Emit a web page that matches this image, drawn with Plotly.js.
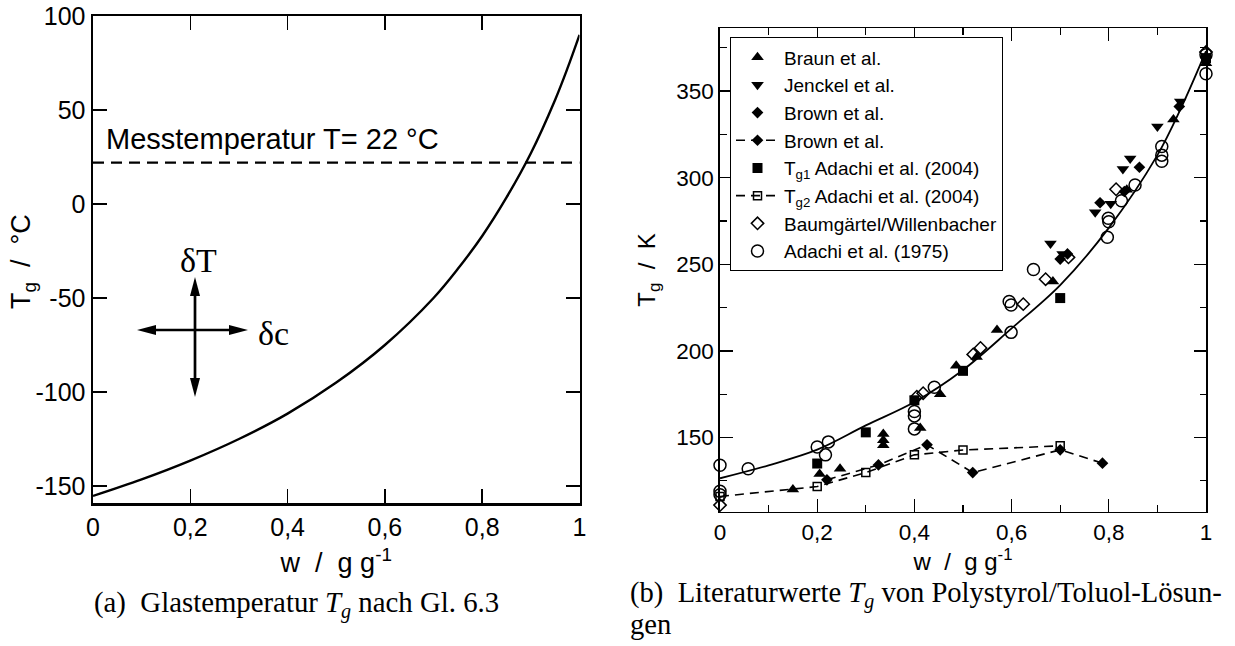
<!DOCTYPE html>
<html><head><meta charset="utf-8">
<script src="https://cdn.plot.ly/plotly-3.0.1.min.js"></script>
<style>html,body{margin:0;padding:0;background:#fff;} #chart{width:1235px;height:646px;}</style>
</head><body><div id="chart"></div>
<script>
// ---------- Panel (a): Glastemperatur nach Gl. 6.3 ----------
const curveAW = [0, 0.1, 0.2, 0.3, 0.4, 0.5, 0.6, 0.7, 0.75, 0.8, 0.85, 0.9, 0.95, 0.975, 1];
const curveAT = [-155.3, -146.5, -136.5, -125, -111.5, -95, -75, -50, -34.5, -17, 3.5, 27, 55.5, 72, 90];
const measW = [0, 1];
const measT = [22, 22];
const xTickVals = [0, 0.2, 0.4, 0.6, 0.8, 1];
const xTickText = ['0', '0,2', '0,4', '0,6', '0,8', '1'];
const yTickValsA = [-150, -100, -50, 0, 50, 100];
const yTickTextA = ['-150', '-100', '-50', '0', '50', '100'];

// ---------- Panel (b): Literaturwerte ----------
const fitW = [0, 0.1, 0.2, 0.3, 0.4, 0.5, 0.6, 0.7, 0.8, 0.9, 0.95, 1];
const fitT = [126.5, 134, 143, 157, 170.5, 189, 213, 238, 271, 313, 341, 373];

const braunW = [0.15, 0.205, 0.247, 0.336, 0.336, 0.336, 0.412, 0.453, 0.486, 0.528, 0.57, 0.685, 0.837, 0.933, 1.0];
const braunT = [120, 129, 132, 152, 148.5, 145.5, 155.5, 175, 191.5, 196.5, 212, 240, 293, 333.5, 366];

const jenckelW = [0.68, 0.705, 0.772, 0.804, 0.829, 0.844, 0.90, 0.947, 1.0];
const jenckelT = [262, 256, 280, 285, 305, 311, 329.5, 344, 368];

const brownW = [0.70, 0.715, 0.782, 0.832, 0.863, 0.945, 1.0];
const brownT = [253, 256, 285.5, 292, 306, 341, 369];

const brownDashW = [0.22, 0.326, 0.426, 0.52, 0.70, 0.787];
const brownDashT = [125.6, 134.2, 145.8, 129.8, 142.9, 135.2];

const tg1W = [0.2, 0.3, 0.4, 0.5, 0.7, 1.0];
const tg1T = [135, 153, 171.5, 188.5, 230.5, 369];

const tg2W = [0, 0.2, 0.3, 0.4, 0.5, 0.7];
const tg2T = [116, 121.7, 129.8, 140, 142.8, 145.2];

const baumW = [0, 0.405, 0.418, 0.521, 0.536, 0.624, 0.670, 0.717, 0.815, 1.0];
const baumT = [111, 173.6, 175.6, 198, 201.7, 227, 241.4, 254, 293.3, 372.5];

const adachi75W = [0, 0, 0, 0.058, 0.2, 0.217, 0.223, 0.4, 0.4, 0.4, 0.441, 0.595, 0.599, 0.599, 0.645, 0.797, 0.799, 0.80, 0.826, 0.854, 0.909, 0.909, 0.909, 1.0, 1.0];
const adachi75T = [134, 119, 117, 132, 144.5, 140, 147.5, 165, 162.5, 155, 179, 228.5, 226.5, 210.7, 247, 265.6, 276.6, 274.5, 286.7, 295.8, 318, 313, 309.5, 371, 360];

// ---------- page geometry ----------
const W = 1235, H = 646;
const px = v => v / W;
const py = v => 1 - v / H;
const SANS = 'Liberation Sans, Arial, sans-serif';
const SERIF = 'Liberation Serif, Times New Roman, serif';

const filled = (sym, size) => ({symbol: sym, size: size, color: 'black', line: {width: 0}});
const open = (sym, size) => ({symbol: sym, size: size, color: 'black', line: {width: 1.5, color: 'black'}});

const traces = [
  // panel a
  {x: curveAW, y: curveAT, xaxis: 'x', yaxis: 'y', mode: 'lines', line: {color: 'black', width: 2.4, shape: 'spline'}, showlegend: false, hoverinfo: 'skip'},
  {x: measW, y: measT, xaxis: 'x', yaxis: 'y', mode: 'lines', line: {color: 'black', width: 2.2, dash: '11px,7px'}, showlegend: false, hoverinfo: 'skip'},
  // panel b
  {x: fitW, y: fitT, xaxis: 'x2', yaxis: 'y2', mode: 'lines', line: {color: 'black', width: 1.8, shape: 'spline'}, showlegend: false, hoverinfo: 'skip'},
  {x: braunW, y: braunT, xaxis: 'x2', yaxis: 'y2', mode: 'markers', name: 'Braun et al.', marker: filled('triangle-up', 11), cliponaxis: false},
  {x: jenckelW, y: jenckelT, xaxis: 'x2', yaxis: 'y2', mode: 'markers', name: 'Jenckel et al.', marker: filled('triangle-down', 11), cliponaxis: false},
  {x: brownW, y: brownT, xaxis: 'x2', yaxis: 'y2', mode: 'markers', name: 'Brown et al.', marker: filled('diamond', 9), cliponaxis: false},
  {x: brownDashW, y: brownDashT, xaxis: 'x2', yaxis: 'y2', mode: 'lines+markers', name: 'Brown et al.', marker: filled('diamond', 9), line: {color: 'black', width: 1.6, dash: '9px,6px'}, cliponaxis: false},
  {x: tg1W, y: tg1T, xaxis: 'x2', yaxis: 'y2', mode: 'markers', name: 'T<sub>g1</sub> Adachi et al. (2004)', marker: filled('square', 10), cliponaxis: false},
  {x: tg2W, y: tg2T, xaxis: 'x2', yaxis: 'y2', mode: 'lines+markers', name: 'T<sub>g2</sub> Adachi et al. (2004)', marker: open('square-open', 8), line: {color: 'black', width: 1.6, dash: '9px,6px'}, cliponaxis: false},
  {x: baumW, y: baumT, xaxis: 'x2', yaxis: 'y2', mode: 'markers', name: 'Baumgärtel/Willenbacher', marker: open('diamond-open', 9.5), cliponaxis: false},
  {x: adachi75W, y: adachi75T, xaxis: 'x2', yaxis: 'y2', mode: 'markers', name: 'Adachi et al. (1975)', marker: open('circle-open', 12), cliponaxis: false}
];

// arrow shapes (decoration in panel a), pixel geometry converted to paper coords
function head(tx, ty, dx, dy, L, hw) {
  const bx = tx - dx * L, by = ty - dy * L;
  const qx = -dy, qy = dx;
  const p1 = [px(tx), py(ty)], p2 = [px(bx + qx * hw), py(by + qy * hw)], p3 = [px(bx - qx * hw), py(by - qy * hw)];
  return {type: 'path', xref: 'paper', yref: 'paper', path: `M${p1[0]},${p1[1]} L${p2[0]},${p2[1]} L${p3[0]},${p3[1]} Z`, fillcolor: 'black', line: {width: 0}};
}
const cx = 195, cyH = 330, topY = 277, botY = 397, leftX = 137, rightX = 248, HL = 19, HW = 5;
const shapes = [
  {type: 'line', xref: 'paper', yref: 'paper', x0: px(cx), x1: px(cx), y0: py(topY + HL - 2), y1: py(botY - HL + 2), line: {color: 'black', width: 2.7}},
  {type: 'line', xref: 'paper', yref: 'paper', x0: px(leftX + HL - 2), x1: px(rightX - HL + 2), y0: py(cyH), y1: py(cyH), line: {color: 'black', width: 2.7}},
  head(cx, topY, 0, -1, HL, HW),
  head(cx, botY, 0, 1, HL, HW),
  head(leftX, cyH, -1, 0, HL, HW),
  head(rightX, cyH, 1, 0, HL, HW)
];

const axA = {showgrid: false, zeroline: false, showline: true, linecolor: 'black', linewidth: 2.5, mirror: 'ticks', ticks: 'inside', tickcolor: 'black', tickwidth: 1.5, ticklen: 14, tickfont: {family: SANS, size: 25, color: 'black'}};
const axB = {showgrid: false, zeroline: false, showline: true, linecolor: 'black', linewidth: 1.6, mirror: 'ticks', ticks: 'inside', tickcolor: 'black', tickwidth: 1.2, ticklen: 12.5, tickfont: {family: SANS, size: 22.5, color: 'black'}};

const layout = {
  width: W, height: H, margin: {l: 0, r: 0, t: 0, b: 0},
  paper_bgcolor: 'white', plot_bgcolor: 'white',
  separators: ',.',
  font: {family: SANS, color: 'black'},
  xaxis: Object.assign({}, axA, {domain: [px(93), px(579.5)], range: [0, 1], anchor: 'y', tickmode: 'array', tickvals: xTickVals, ticktext: xTickText,
    title: {text: 'w\u00a0\u00a0/\u00a0\u00a0g\u00a0g<sup>-1</sup>', font: {family: SANS, size: 27, color: 'black'}, standoff: 14}}),
  yaxis: Object.assign({}, axA, {domain: [py(503.3), py(16)], range: [-159.2, 100], anchor: 'x', tickmode: 'array', tickvals: yTickValsA, ticktext: yTickTextA}),
  xaxis2: Object.assign({}, axB, {domain: [px(720), px(1206)], range: [0, 1], anchor: 'y2', tick0: 0, dtick: 0.2,
    minor: {dtick: 0.1, ticks: 'inside', ticklen: 6.5, tickcolor: 'black', tickwidth: 1.2},
    title: {text: 'w\u00a0\u00a0/\u00a0\u00a0g\u00a0g<sup>-1</sup>', font: {family: SANS, size: 24, color: 'black'}, standoff: 8}}),
  yaxis2: Object.assign({}, axB, {domain: [py(511.7), py(28.3)], range: [107.2, 386.2], anchor: 'x2', tick0: 0, dtick: 50,
    minor: {dtick: 25, ticks: 'inside', ticklen: 6.5, tickcolor: 'black', tickwidth: 1.2},
    title: {text: 'T<sub>g</sub>\u00a0\u00a0/\u00a0\u00a0K', font: {family: SANS, size: 24, color: 'black'}, standoff: 14}}),
  legend: {x: px(730), y: py(37.3), xanchor: 'left', yanchor: 'top', bgcolor: 'white', bordercolor: 'black', borderwidth: 1,
    font: {family: SANS, size: 19, color: 'black'}, itemwidth: 43, tracegroupgap: 0, entrywidth: 275},
  shapes: shapes,
  annotations: [
    // left y-axis title (placed as annotation for exact position)
    {xref: 'paper', yref: 'paper', x: px(23), y: py(262), xanchor: 'center', yanchor: 'middle', showarrow: false, textangle: -90,
      text: 'T<sub>g</sub>\u00a0\u00a0/\u00a0\u00a0°C', font: {family: SANS, size: 27, color: 'black'}},
    {xref: 'paper', yref: 'paper', x: px(104), y: py(138.8), xanchor: 'left', yanchor: 'middle', showarrow: false,
      text: 'Messtemperatur T= 22 °C', font: {family: SANS, size: 29, color: 'black'}},
    {xref: 'paper', yref: 'paper', x: px(198.5), y: py(260.8), xanchor: 'center', yanchor: 'middle', showarrow: false,
      text: 'δT', font: {family: SERIF, size: 34, color: 'black'}},
    {xref: 'paper', yref: 'paper', x: px(273.3), y: py(333.8), xanchor: 'center', yanchor: 'middle', showarrow: false,
      text: 'δc', font: {family: SERIF, size: 34, color: 'black'}},
    {xref: 'paper', yref: 'paper', x: px(92), y: py(604), xanchor: 'left', yanchor: 'middle', showarrow: false,
      text: '(a)\u00a0\u00a0Glastemperatur <i>T<sub>g</sub></i> nach Gl. 6.3', font: {family: SERIF, size: 28.8, color: 'black'}},
    {xref: 'paper', yref: 'paper', x: px(628), y: py(595), xanchor: 'left', yanchor: 'middle', showarrow: false,
      text: '(b)\u00a0\u00a0Literaturwerte <i>T<sub>g</sub></i> von Polystyrol/Toluol-Lösun-', font: {family: SERIF, size: 28.6, color: 'black'}},
    {xref: 'paper', yref: 'paper', x: px(628), y: py(624), xanchor: 'left', yanchor: 'middle', showarrow: false,
      text: 'gen', font: {family: SERIF, size: 28.6, color: 'black'}}
  ]
};

Plotly.newPlot('chart', traces, layout, {displayModeBar: false, staticPlot: true});
</script>
</body></html>
